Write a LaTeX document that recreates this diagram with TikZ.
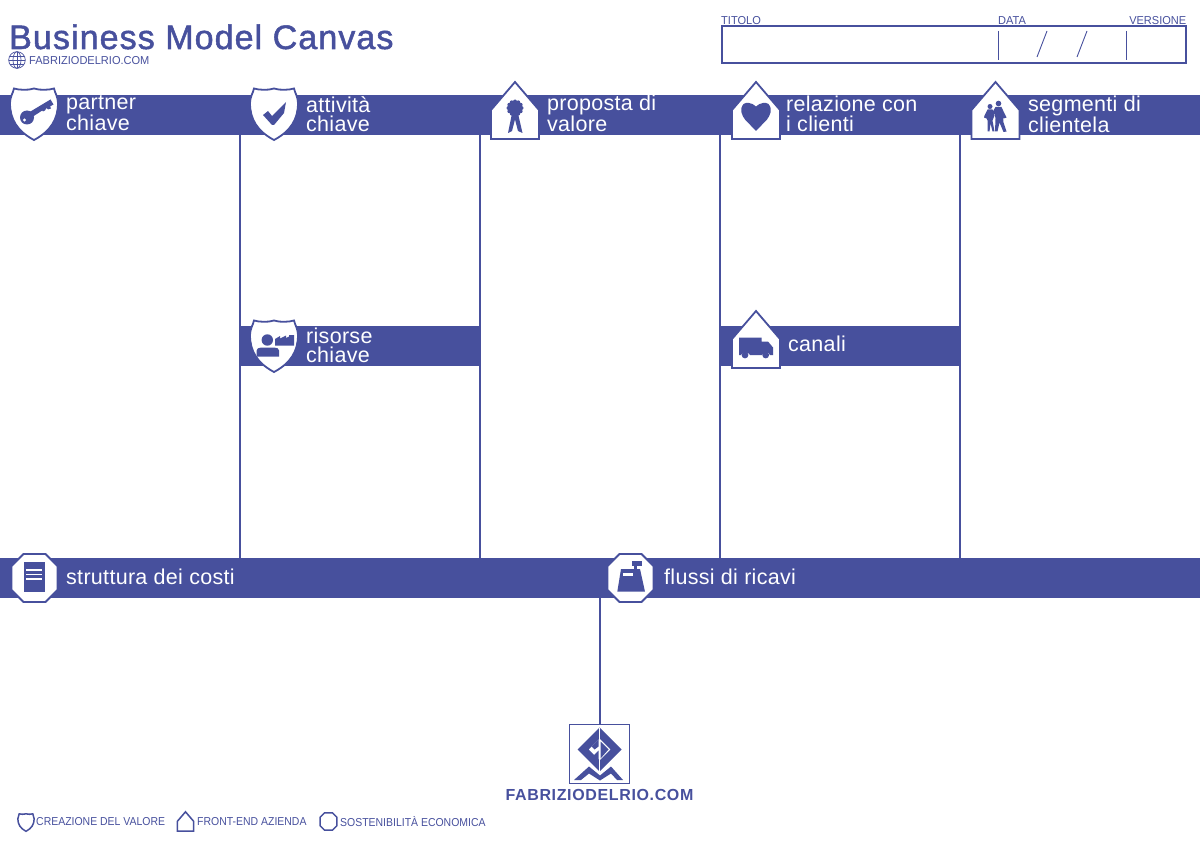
\documentclass[tikz,border=0pt]{standalone}
\usepackage{fontspec}
\setmainfont{Liberation Sans}
\newfontfamily\wide[LetterSpace=1.4]{Liberation Sans}
\newfontfamily\capsfont[FakeStretch=0.91]{Liberation Sans}
\newfontfamily\sitefont[FakeStretch=0.96]{Liberation Sans}
\newfontfamily\titlefont[LetterSpace=3.2,FakeBold=1.5]{Liberation Sans}
\newfontfamily\logofont[LetterSpace=4]{Liberation Sans}
\usetikzlibrary{positioning, calc}
\definecolor{canvasblue}{RGB}{71,80,157}

% Badge outlines, drawn from the centre of the badge
\newcommand{\shieldpath}{(-20,-25.5) .. controls (-15,-24) and (-6,-23.5) .. (0,-25.5) .. controls (6,-23.5) and (15,-24) .. (20,-25.5) .. controls (21,-21) and (24,-17) .. (24,-11) .. controls (24,5) and (17,17) .. (0,26) .. controls (-17,17) and (-24,5) .. (-24,-11) .. controls (-24,-17) and (-21,-21) .. (-20,-25.5) -- cycle}
\newcommand{\homepath}{(0,-28.5) -- (24,-0.5) -- (24,28.5) -- (-24,28.5) -- (-24,-0.5) -- cycle}
\newcommand{\octpath}{(-11,-24) -- (11,-24) -- (23,-12) -- (23,12) -- (11,24) -- (-11,24) -- (-23,12) -- (-23,-12) -- cycle}

\begin{document}
\begin{tikzpicture}[
    x=1pt, y=-1pt,
    bandbox/.style={fill=canvasblue, minimum height=40pt, inner sep=0pt, outer sep=0pt, anchor=north west},
    divider/.style={draw=canvasblue, line width=2pt},
    badge/.style={draw=canvasblue, fill=white, line width=1.8pt},
    icon/.style={fill=canvasblue, draw=none},
    blockname/.style={font=\wide\fontsize{21.5}{19.5}\selectfont, text=white, anchor=west, align=left, inner sep=0pt},
    small/.style={font=\capsfont\fontsize{11.5}{12}\selectfont, text=canvasblue, inner sep=0pt},
    thin tick/.style={draw=canvasblue, line width=0.9pt}
]

\useasboundingbox (0,0) rectangle (1200,848);

% Bands
\node[bandbox, minimum width=1200pt] (topband) at (0,95) {};
\node[bandbox, minimum width=240pt] (keyres) at (240,326) {};
\node[bandbox, minimum width=240pt] (channels) at (720,326) {};
\node[bandbox, minimum width=1200pt] (bottomband) at (0,558) {};

% Dividers
\foreach \x in {240,480,720,960} {
    \coordinate (up\x) at (\x,135);
    \coordinate (down\x) at (\x,558);
    \draw[divider] (up\x) -- (down\x);
}

% Title block
\node[font=\titlefont\fontsize{34}{36}\selectfont, text=canvasblue, anchor=base west, inner sep=0pt] (title) at (9,49) {Business Model Canvas};
\node[small, font=\sitefont\fontsize{11.5}{12}\selectfont, anchor=west] (site) at (29,60.5) {FABRIZIODELRIO.COM};

% Globe
\begin{scope}[shift={(17,60)}, draw=canvasblue, line width=0.7pt]
    \draw (0,0) circle (8.3);
    \draw (0,0) ellipse (4 and 8.3);
    \draw (0,-8.3) -- (0,8.3);
    \draw (-8.3,0) -- (8.3,0);
    \draw (-7.2,-4) -- (7.2,-4);
    \draw (-7.2,4) -- (7.2,4);
\end{scope}

% Info box
\node[draw=canvasblue, line width=2pt, minimum width=464pt, minimum height=37.5pt, inner sep=0pt, outer sep=0pt, anchor=north west] (infobox) at (721.7,26) {};
\node[small, font=\sitefont\fontsize{11.5}{12}\selectfont, anchor=base west] (titolo) at (721,24.7) {TITOLO};
\node[small, font=\sitefont\fontsize{11.5}{12}\selectfont, anchor=base west] (data) at (998,24.7) {DATA};
\node[small, font=\sitefont\fontsize{11.5}{12}\selectfont, anchor=base east] (versione) at (1186.5,24.7) {VERSIONE};
\draw[thin tick] (998,31) -- (998,60);
\draw[thin tick] (1047,31) -- (1037,57);
\draw[thin tick] (1087,31) -- (1077,57);
\draw[thin tick] (1126,31) -- (1126,60);

% Shields
\foreach \name/\cx/\cy in {shielda/34/114, shieldb/274/114, shieldc/274/346} {
    \draw[badge, shift={(\cx,\cy)}] \shieldpath;
    \coordinate (\name) at (\cx,\cy);
}
% Homes
\foreach \name/\cx/\cy in {homea/515/110.5, homeb/756/110.5, homec/995.5/110.5, homed/756/339.5} {
    \draw[badge, shift={(\cx,\cy)}] \homepath;
    \coordinate (\name) at (\cx,\cy);
}
% Octagons
\foreach \name/\cx/\cy in {octa/34.5/578, octb/630.5/578} {
    \draw[badge, shift={(\cx,\cy)}] \octpath;
    \coordinate (\name) at (\cx,\cy);
}

% Key
\begin{scope}[shift={(shielda)}]
    \fill[icon] (-7,3.5) circle (7);
    \fill[icon] (-8.5,0.5) -- (16.5,-14.5) -- (19.5,-9.5) -- (16,-7.5) -- (17,-5.5) -- (14,-4.5) -- (12.5,-6) -- (11,-3.5) -- (9,-2.5) -- (8.2,-3.5) -- (-5.5,5.5) -- cycle;
    \fill[white] (-9.5,6) circle (1.7);
\end{scope}
% Check
\begin{scope}[shift={(shieldb)}]
    \fill[icon] (-11,1) -- (-6,-3) -- (-2,2) -- (12,-12) -- (10,-1) -- (0,11) -- (-2,11) -- cycle;
\end{scope}
% Rosette
\begin{scope}[shift={(homea)}]
    \fill[icon] (-3,3) -- (-7,22.5) -- (-3,20.5) -- (0,9) -- (3,20.5) -- (7.5,22.5) -- (3,3) -- cycle;
    \fill[icon] (0,-2.5) circle (7);
    \foreach \a in {0,30,...,330} {
        \fill[icon] (\a:6.5) ++(0,-2.5) circle (2);
    }
\end{scope}
% Heart
\begin{scope}[shift={(homeb)}]
    \fill[icon] (0,-4) .. controls (-4,-8) and (-10,-8.5) .. (-12.5,-6.5) .. controls (-17,-1) and (-14,5) .. (-11,9) -- (0,20.5) -- (11,9) .. controls (14,5) and (17,-1) .. (12.5,-6.5) .. controls (10,-8.5) and (4,-8) .. (0,-4) -- cycle;
\end{scope}
% People
\begin{scope}[shift={(homec)}]
    \fill[icon] (3,-7) circle (2.8);
    \fill[icon] (-5.5,-4) circle (2.5);
    \fill[icon] (0,-3.5) -- (6,-3.5) -- (9,3) -- (11,7) -- (8,8) -- (7.5,6) -- (8,12) -- (11,21) -- (8,21.5) -- (4,12) -- (2,21) -- (-0.5,21) -- (0,8) -- (-1,3) -- (-4,7) -- (-5,5) -- cycle;
    \fill[icon] (-8,-1) -- (-3,-1) -- (-1,5) -- (-3,10) -- (-1,21) -- (-3,21) -- (-5,13) -- (-6,21) -- (-8,21) -- (-8,10) -- (-9,8) -- (-11.5,7) -- (-11,5) -- cycle;
\end{scope}
% Person and factory
\begin{scope}[shift={(shieldc)}]
    \fill[icon] (-6.7,-6) circle (5.7);
    \fill[icon] (-17.3,4.5) .. controls (-17.3,2.5) and (-15.5,1.7) .. (-13.5,1.7) -- (1,1.7) .. controls (3,1.7) and (5,2.5) .. (5,4.5) -- (5,10.7) -- (-17.3,10.7) -- cycle;
    \fill[icon] (1,-7) -- (6,-10) -- (6,-7.5) -- (12,-10.5) -- (12,-8) -- (15,-9.5) -- (15,-11) -- (20,-11) -- (20,-0.5) -- (1,-0.5) -- cycle;
\end{scope}
% Truck
\begin{scope}[shift={(homed)}]
    \fill[icon] (-17,-2) -- (5.7,-2) -- (5.7,2) -- (12,2) -- (17,8) -- (17,15.5) -- (14,15.5) .. controls (13,12) and (7,12) .. (6,15.5) -- (-6,15.5) .. controls (-7,12) and (-15,12) .. (-15,15.5) -- (-17,15.5) -- cycle;
    \fill[icon] (-11,15.5) circle (3.4);
    \fill[icon] (9.7,15.5) circle (3.4);
\end{scope}
% Document
\begin{scope}[shift={(octa)}]
    \fill[icon] (-11,-15.7) rectangle (10.5,13.7);
    \foreach \y in {-8,-3.7,1} {
        \fill[white] (-8.5,\y-0.8) rectangle (7.2,\y+0.8);
    }
\end{scope}
% Cash register
\begin{scope}[shift={(octb)}]
    \fill[icon] (-9.5,-9) -- (9.5,-9) -- (14.5,13.7) -- (-13.2,13.7) -- cycle;
    \fill[icon] (1.2,-17.3) rectangle (11.2,-12.3);
    \fill[icon] (3,-12.3) rectangle (6,-9);
    \fill[white] (-7.2,-4.7) rectangle (2.8,-2);
\end{scope}

% Block names
\node[blockname] (partner) at (66,113.5) {partner\\chiave};
\node[blockname] (activity) at (306,114) {attività\\chiave};
\node[blockname] (value) at (547,113.5) {proposta di\\valore};
\node[blockname] (relation) at (786,114) {relazione con\\i clienti};
\node[blockname] (segments) at (1028,114) {segmenti di\\clientela};
\node[blockname] (resources) at (306,345.5) {risorse\\chiave};
\node[blockname] (canali) at (788,344) {canali};
\node[blockname] (costs) at (66,577) {struttura dei costi};
\node[blockname] (revenue) at (664,577) {flussi di ricavi};

% Logo
\node[draw=canvasblue, line width=1pt, minimum size=59.5pt, inner sep=0pt, outer sep=0pt, anchor=north west] (logobox) at (569.5,724) {};
\coordinate (stem) at (600,598);
\draw[divider] (stem) -- (logobox.north -| stem);
\begin{scope}[shift={(599.5,749.5)}]
    \fill[icon, even odd rule] (0,-22) -- (22,0) -- (0,22) -- (-22,0) -- cycle
        (0,-11) -- (11,0) -- (0,11) -- (-11,0) -- cycle;
    \fill[icon] (-1,-10) -- (-8,-3) -- (-5,0) -- (-1,-3) -- cycle;
    \fill[icon] (-1,1) -- (-6,6) -- (-1,11) -- cycle;
    \fill[icon] (1,-8) -- (9,0) -- (1,9) -- cycle;
    \fill[white] (-0.7,-22) rectangle (0.7,22);
    \fill[icon] (-25.5,30.5) -- (-10.5,17) -- (0.5,26) -- (11.5,17) -- (23.5,30.5) -- (17.5,30.5) -- (11.5,24) -- (0.5,31) -- (-10.5,24) -- (-18.5,30.5) -- cycle;
\end{scope}
\node[font=\logofont\fontsize{16}{16}\selectfont\bfseries, text=canvasblue, anchor=base, inner sep=0pt] (sitebig) at (599.5,800) {FABRIZIODELRIO.COM};

% Legend
\begin{scope}[shift={(26,822.5)}, scale=0.34]
    \draw[badge, line width=1.5pt] \shieldpath;
\end{scope}
\node[small, anchor=west] (legenda) at (36,822) {CREAZIONE DEL VALORE};
\begin{scope}[shift={(185.5,821.5)}, scale=0.34]
    \draw[badge, line width=1.5pt] \homepath;
\end{scope}
\node[small, anchor=west] (legendb) at (197,822) {FRONT-END AZIENDA};
\begin{scope}[shift={(328.5,821.5)}, scale=0.36]
    \draw[badge, line width=1.5pt] \octpath;
\end{scope}
\node[small, anchor=west] (legendc) at (340,822) {SOSTENIBILITÀ ECONOMICA};

\end{tikzpicture}
\end{document}
